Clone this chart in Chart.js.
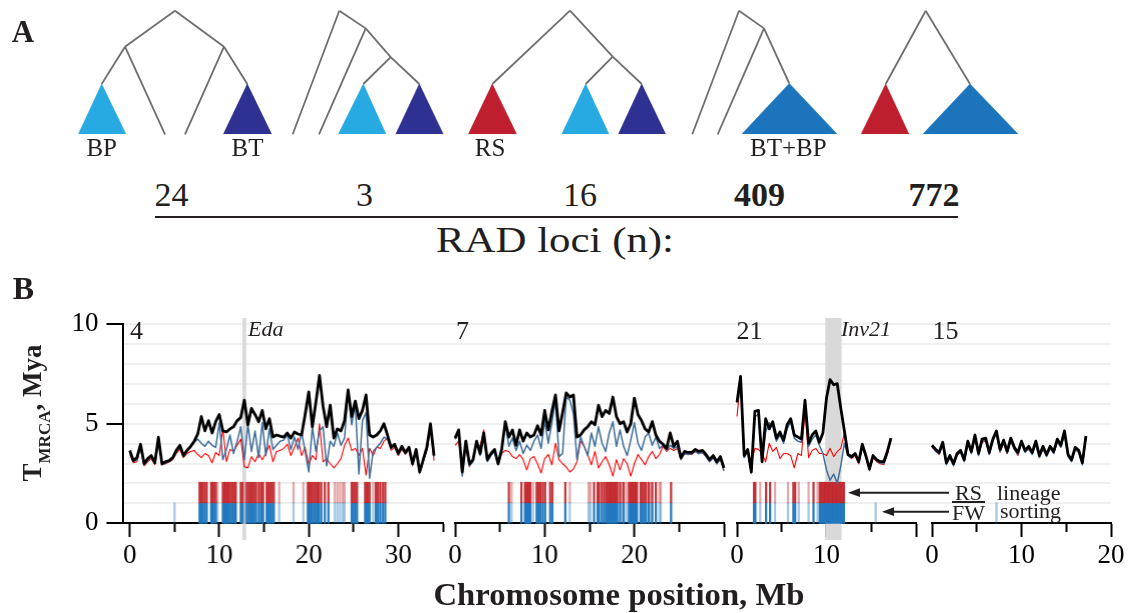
<!DOCTYPE html>
<html>
<head>
<meta charset="utf-8">
<script src="https://cdn.jsdelivr.net/npm/chart.js@4.4.1/dist/chart.umd.min.js"></script>
<style>
  html, body { margin: 0; padding: 0; background: #fff; }
  #fig { position: relative; width: 1128px; height: 613px; overflow: hidden; background: #fff;
         font-family: 'Liberation Serif', 'Times New Roman', serif; color: #231f20; }
  #fig canvas { position: absolute; }
  .t { position: absolute; white-space: nowrap; line-height: 1; }
  .c { transform: translateX(-50%); }
  .b { font-weight: bold; }
  .i { font-style: italic; }
</style>
</head>
<body>
<div id="fig"></div>
<script>
// ---------- data: chromosome scans (position in Mb, TMRCA in Mya) ----------
const chr4Pos = [0,0.4,0.8,1.2,1.6,2,2.4,2.8,3.2,3.6,4,4.4,4.8,5.2,5.6,6,6.4,6.8,7.2,7.6,8,8.4,8.8,9.2,9.6,10,10.4,10.8,11.2,11.6,12,12.4,12.8,13.2,13.6,14,14.4,14.8,15.2,15.6,16,16.4,16.8,17.2,17.6,18,18.4,18.8,19.2,19.6,20,20.4,20.8,21.2,21.6,22,22.4,22.8,23.2,23.6,24,24.4,24.8,25.2,25.6,26,26.4,26.8,27.2,27.6,28,28.4,28.8,29.2,29.6,30,30.4,30.8,31.2,31.6,32,32.4,32.8,33.2,33.6,34];
const chr4All = [3.55,3.05,3.2,3.85,2.9,3.15,3.3,2.95,4.2,2.9,3.0,3.05,3.2,3.55,3.8,3.3,3.55,3.75,4.0,4.35,5.2,4.5,5.0,4.4,4.95,5.3,4.5,4.45,4.6,4.7,5.0,5.15,6.0,4.8,5.6,5.3,4.95,5.5,4.6,5.1,4.2,4.3,4.25,4.2,4.4,4.15,4.45,4.35,4.3,5.3,6.4,4.7,5.9,7.2,5.7,4.7,5.75,4.15,4.6,4.5,5.0,6.5,5.2,5.95,5.1,5.5,6.25,4.3,4.2,4.3,4.5,4.85,4.3,3.7,3.85,3.4,3.75,3.45,3.7,2.9,3.6,2.5,3.1,3.7,4.85,3.3];
const chr4FW  = [3.5,3.0,3.1,3.75,2.85,3.05,3.25,2.9,4.1,2.85,2.95,3.0,3.15,3.5,3.7,3.25,3.5,3.7,3.95,4.1,3.9,3.75,4.0,3.8,3.7,4.9,3.1,3.6,4.3,3.4,4.0,4.7,3.1,4.8,3.5,4.5,3.2,4.9,3.3,4.6,3.6,3.8,4.0,4.05,4.3,3.6,4.2,3.6,4.45,3.5,2.5,4.7,3.5,4.5,4.7,2.8,4.0,3.75,4.4,3.8,4.15,6.4,4.8,5.8,2.4,5.0,5.4,2.2,3.5,3.7,3.9,4.2,4.1,3.65,3.8,3.35,3.7,3.4,3.65,2.85,3.55,2.45,3.05,3.65,4.75,3.25];
const chr4RS  = [3.35,2.95,3.0,3.7,2.8,3.0,3.15,2.85,4.0,2.85,2.9,3.0,3.1,3.4,3.6,3.2,3.4,3.5,3.55,3.35,3.2,3.4,3.3,2.95,3.45,3.3,4.6,3.0,3.6,3.5,3.8,4.1,2.75,2.7,3.25,3.0,3.4,3.1,3.4,3.8,3.0,3.5,3.55,3.65,3.85,3.3,3.7,4.15,3.3,3.7,2.85,3.3,3.1,4.85,3.0,3.15,2.9,2.7,2.9,3.15,3.8,4.15,3.55,3.65,3.3,3.65,2.35,3.65,3.3,3.7,3.65,4.0,4.15,3.55,3.7,3.3,3.6,3.35,3.6,2.8,3.5,2.45,3.0,3.55,4.6,3.05];

const chr7Pos = [0,0.4,0.8,1.2,1.6,2,2.4,2.8,3.2,3.6,4,4.4,4.8,5.2,5.6,6,6.4,6.8,7.2,7.6,8,8.4,8.8,9.2,9.6,10,10.4,10.8,11.2,11.6,12,12.4,12.8,13.2,13.6,14,14.4,14.8,15.2,15.6,16,16.4,16.8,17.2,17.6,18,18.4,18.8,19.2,19.6,20,20.4,20.8,21.2,21.6,22,22.4,22.8,23.2,23.6,24,24.4,24.8,25.2,25.6,26,26.4,26.8,27.2,27.6,28,28.4,28.8,29.2,29.6,30,30.4,30.6];
const chr7All = [4.15,4.55,2.5,4.0,2.9,3.1,4.0,3.4,4.4,3.1,3.4,3.6,2.9,3.6,4.95,4.2,4.55,3.8,4.55,4.0,4.4,4.2,4.3,4.75,4.3,5.5,4.55,5.45,6.25,4.5,5.4,6.35,6.15,6.25,4.2,4.3,4.55,4.7,4.95,4.8,5.75,5.2,5.5,5.35,6.15,5.2,4.85,4.95,4.45,4.85,6.1,5.3,5.0,4.6,4.45,4.95,4.3,4.0,3.85,3.65,4.4,3.75,4.0,3.2,3.5,3.45,3.45,3.6,3.5,3.55,3.35,3.1,3.3,3.0,3.25,2.7,3.5,3.95];
const chr7FW  = [4.1,4.45,2.3,3.9,2.8,3.0,3.9,3.3,4.2,3.0,3.3,3.5,2.85,3.5,4.9,3.75,4.15,3.55,4.0,3.4,3.8,3.55,4.0,4.3,3.65,5.0,3.9,4.9,6.0,3.25,3.4,6.15,6.0,5.35,3.1,4.2,3.75,3.3,4.4,3.75,4.7,3.9,3.5,4.4,4.95,3.75,4.55,3.75,3.3,4.05,4.9,3.9,3.55,4.2,4.4,3.8,4.2,3.65,3.8,3.55,3.8,3.65,3.75,3.1,3.4,3.35,3.4,3.5,3.4,3.45,3.25,3.0,3.2,2.9,3.15,2.55,3.4,3.9];
const chr7RS  = [3.8,4.0,2.75,3.75,2.75,3.15,3.9,3.75,4.55,3.2,3.35,3.5,2.85,3.4,3.55,3.5,3.25,3.15,3.35,3.1,2.6,3.15,3.25,2.9,2.45,3.15,3.35,2.85,3.9,3.1,2.9,2.75,2.5,2.65,3.0,4.0,3.75,3.35,2.85,3.5,2.7,3.0,3.25,2.85,2.3,3.1,2.6,3.15,2.9,2.3,2.9,3.35,3.1,2.85,3.25,3.5,3.15,3.35,3.75,3.5,3.65,3.55,3.65,3.1,3.4,3.35,3.35,3.5,3.4,3.45,3.25,3.0,3.2,2.9,3.1,2.6,3.3,3.8];

const chr21Pos = [0,0.4,0.8,1.2,1.6,2,2.4,2.8,3.2,3.6,4,4.4,4.8,5.2,5.6,6,6.4,6.8,7.2,7.6,8,8.4,8.8,9.2,9.6,10,10.4,10.8,11.2,11.6,12,12.4,12.8,13.2,13.6,14,14.4,14.8,15.2,15.6,16,16.4,16.8,17.2];
const chr21All = [5.9,7.15,3.3,3.6,2.5,5.45,5.5,3.0,5.1,4.6,4.95,4.15,4.45,4.05,4.8,5.1,4.3,4.2,4.1,6.0,3.9,4.3,4.5,3.95,4.4,6.1,7.0,6.75,6.8,5.6,4.5,3.35,3.25,3.4,3.0,3.85,3.3,2.65,3.3,3.1,3.0,3.0,3.5,4.15];
const chr21FW  = [5.85,7.1,3.2,3.5,2.45,5.2,5.3,2.95,4.45,4.9,4.7,4.0,4.3,3.9,4.6,4.95,4.15,4.0,3.95,5.8,3.75,4.1,4.3,3.8,3.4,2.6,2.1,2.4,1.95,2.8,3.9,3.3,3.2,3.35,2.95,3.75,3.25,2.6,3.25,3.05,2.95,2.9,3.45,4.1];
const chr21RS  = [5.2,7.0,3.25,3.6,2.9,3.65,3.6,3.4,3.0,3.9,3.5,3.7,3.15,3.4,3.4,3.3,2.7,3.4,3.3,5.45,3.2,3.55,3.65,3.4,3.4,3.3,3.65,3.25,3.5,3.65,4.4,3.3,3.15,3.3,2.9,3.7,3.2,2.55,3.2,3.0,2.9,2.85,3.35,4.05];

const chr15Pos = [0,0.4,0.8,1.2,1.6,2,2.4,2.8,3.2,3.6,4,4.4,4.8,5.2,5.6,6,6.4,6.8,7.2,7.6,8,8.4,8.8,9.2,9.6,10,10.4,10.8,11.2,11.6,12,12.4,12.8,13.2,13.6,14,14.4,14.8,15.2,15.6,16,16.4,16.8,17.2];
const chr15All = [3.8,3.6,3.45,3.95,2.95,3.3,2.9,3.4,3.55,3.1,4.0,3.5,4.3,3.4,4.1,4.15,3.45,4.1,4.5,3.6,4.05,3.5,4.15,3.7,3.45,4.0,3.55,3.75,3.45,4.0,3.3,3.75,3.35,3.75,3.5,4.1,3.8,4.5,3.35,3.1,3.7,3.55,2.95,4.25];
const chr15FW  = [3.75,3.5,3.4,3.85,2.85,3.2,2.8,3.35,3.45,3.0,3.9,3.4,4.2,3.3,4.0,4.05,3.35,4.0,4.4,3.5,3.95,3.4,4.05,3.6,3.35,3.9,3.45,3.65,3.35,3.9,3.2,3.65,3.25,3.65,3.4,4.0,3.7,4.4,3.25,3.0,3.6,3.45,2.85,4.2];
const chr15RS  = [3.7,3.55,3.35,3.9,2.9,3.2,2.85,3.3,3.5,3.05,3.85,3.45,4.15,3.35,3.95,4.0,3.35,4.05,4.4,3.45,3.9,3.4,4.0,3.6,3.3,3.95,3.5,3.6,3.4,3.85,3.25,3.6,3.3,3.7,3.4,3.95,3.75,4.35,3.3,3.05,3.6,3.45,2.9,4.1];

// loci showing RS / FW lineage sorting (Mb); faint = weaker support
const chr4Sorted = [7.8,7.95,8.1,8.35,8.6,9.1,9.25,9.4,9.6,10.4,10.55,10.7,10.85,11.0,11.2,11.4,11.6,11.8,12.4,12.6,13.1,13.3,13.5,13.7,13.9,14.1,14.45,14.7,14.9,15.3,15.5,15.7,15.9,16.1,19.9,20.05,20.2,20.4,20.6,20.8,21.0,21.15,21.4,21.8,22.2,24.8,25.0,25.2,25.4,26.3,26.45,26.6,26.8,27.5,27.7,28.0,28.3,28.55];
const chr4Faint  = [8.5,9.8,11.9,12.9,14.3,16.7,18.3,19.4,22.9,23.2,23.5,23.8,24.0,27.2,27.9];
const chr4FwOnly = [5.0];
const chr7Sorted = [6.0,7.4,7.8,7.95,8.1,8.25,8.4,9.1,9.3,9.5,9.8,10.05,10.6,10.85,12.3,15.5,15.9,16.05,16.4,16.65,16.9,17.05,17.2,17.35,17.5,17.65,17.8,17.95,18.1,18.4,18.8,19.4,19.55,19.7,19.85,20.0,20.15,20.3,20.7,20.9,21.1,21.3,21.6,22.0,22.4,24.1];
const chr7Faint  = [6.3,8.7,9.65,12.8,14.9,15.1,16.25,18.6,19.1,21.8,22.8,22.95];
const chr7FwOnly = [];
const chr21Sorted = [1.9,2.05,3.25,3.7,6.3,6.5,8.55,9.25,9.4,9.55,9.7,9.85,10.0,10.15,10.3,10.45,10.6,10.75,10.9,11.05,11.2,11.35,11.5,11.65,11.8,11.95];
const chr21Faint  = [2.6,4.25,5.7,6.9,8.0,9.0];
const chr21FwOnly = [15.5];
const chr15Sorted = [];
const chr15Faint  = [];
const chr15FwOnly = [7.2];

// axis ticks (Mb) and which of them carry a label
const chr4Ticks = [0,5,10,15,20,25,30,35],  chr4Labels = [0,10,20,30];
const chr7Ticks = [0,5,10,15,20,25,30],     chr7Labels = [0,10,20];
const chr21Ticks = [0,5,10,15,20],          chr21Labels = [0,10];
const chr15Ticks = [0,5,10,15,20],          chr15Labels = [0,10,20];
const yTicks = [0,1,2,3,4,5,6,7,8,9,10],    yLabels = [0,5,10];

// marked regions
const edaPos = 12.8;
const inv21Start = 9.9, inv21End = 11.65;

// ---------- panel A: cladograms (x across the row, y = height, 0 at tips, 1 at root) ----------
const treeEdges = [
  // BP | BT split with two unplaced lineages
  [[175,1],[125,0.709]], [[175,1],[224,0.709]],
  [[125,0.709],[101.7,0.407]], [[125,0.709],[165,0]],
  [[224,0.709],[185,0]], [[224,0.709],[247.3,0.407]],
  // ((BP,BT),x),x
  [[339.3,1],[292.7,0]], [[339.3,1],[365.7,0.857]],
  [[365.7,0.857],[319,0]], [[365.7,0.857],[390.7,0.625]],
  [[390.7,0.625],[363.3,0.407]], [[390.7,0.625],[419.3,0.407]],
  // RS,(BP,BT)
  [[570,1],[492.3,0.407]], [[570,1],[612.7,0.628]],
  [[612.7,0.628],[585.7,0.407]], [[612.7,0.628],[641.7,0.407]],
  // ((BT+BP),x),x
  [[739,1],[692.3,0]], [[739,1],[764,0.857]],
  [[764,0.857],[717.7,0]], [[764,0.857],[789.3,0.411]],
  // RS,(BT+BP)
  [[925.7,1],[885.7,0.407]], [[925.7,1],[970,0.407]]
];
const clades = [
  { left: 78.3,  apex: 101.7, right: 126,    top: 0.407, color: '#27aae1' },
  { left: 223.3, apex: 247.3, right: 271.7,  top: 0.407, color: '#2e3192' },
  { left: 338.3, apex: 363.3, right: 386,    top: 0.407, color: '#27aae1' },
  { left: 395.7, apex: 419.3, right: 443.3,  top: 0.407, color: '#2e3192' },
  { left: 468.3, apex: 492.3, right: 516.7,  top: 0.407, color: '#be1e2d' },
  { left: 561.7, apex: 585.7, right: 609,    top: 0.407, color: '#27aae1' },
  { left: 618.3, apex: 641.7, right: 665.7,  top: 0.407, color: '#2e3192' },
  { left: 741.7, apex: 789.3, right: 837.3,  top: 0.411, color: '#1c75bc' },
  { left: 861,   apex: 885.7, right: 909,    top: 0.407, color: '#be1e2d' },
  { left: 922.7, apex: 970,   right: 1018.3, top: 0.407, color: '#1c75bc' }
];
const topologyCounts = ['24', '3', '16', '409', '772'];

// ---------- helpers ----------
const SERIF = "'Liberation Serif', 'Times New Roman', serif";
Chart.defaults.font.family = SERIF;
Chart.defaults.color = '#000';
Chart.defaults.animation = false;

const fig = document.getElementById('fig');
function makeCanvas(left, top, w, h) {
  const c = document.createElement('canvas');
  c.width = w; c.height = h;
  c.style.left = left + 'px'; c.style.top = top + 'px';
  c.style.width = w + 'px'; c.style.height = h + 'px';
  fig.appendChild(c);
  return c;
}
// text placed by its baseline
function label(html, x, base, size, cls, stretch) {
  const d = document.createElement('div');
  d.className = 't ' + (cls || '');
  d.innerHTML = html;
  d.style.fontSize = size + 'px';
  d.style.left = x + 'px';
  d.style.top = (base - 0.8375 * size) + 'px';
  if (stretch) d.style.transform = 'translateX(-50%) scaleX(' + stretch + ')';
  fig.appendChild(d);
  return d;
}
const quiet = { legend: { display: false }, tooltip: { enabled: false } };

// ---------- panel A ----------
const treeDatasets = [];
treeEdges.forEach(e => treeDatasets.push({
  data: e.map(p => ({ x: p[0], y: p[1] })),
  borderColor: '#6d6e71', borderWidth: 1.8, pointRadius: 0, fill: false, clip: false
}));
clades.forEach(t => treeDatasets.push({
  data: [{ x: t.left, y: 0 }, { x: t.apex, y: t.top }, { x: t.right, y: 0 }],
  borderColor: t.color, backgroundColor: t.color, borderWidth: 0.5,
  pointRadius: 0, fill: 'origin', clip: false
}));
new Chart(makeCanvas(0, 0, 1128, 150), {
  type: 'line',
  data: { datasets: treeDatasets },
  options: {
    responsive: false, devicePixelRatio: 1, events: [], plugins: quiet,
    layout: { padding: { top: 10.7, bottom: 15.7, left: 0, right: 0 } },
    scales: {
      x: { type: 'linear', min: 0, max: 1128, display: false },
      y: { type: 'linear', min: 0, max: 1, display: false }
    }
  }
});

label('A', 11.7, 41.7, 31, 'b');
label('BP', 101.7, 156, 25, 'c');
label('BT', 247.5, 156, 25, 'c');
label('RS', 490, 156, 25, 'c');
label('BT+BP', 788.3, 156, 25, 'c');
const countX = [171.5, 364.5, 580, 759.5, 934];
topologyCounts.forEach((n, i) => label(n, countX[i], 206.7, 34, 'c' + (i >= 3 ? ' b' : '')));
const rule = document.createElement('div');
rule.style.cssText = 'position:absolute;left:155px;top:215.5px;width:803px;height:2.3px;background:#231f20;';
fig.appendChild(rule);
label('RAD loci (n):', 555, 252.5, 36, '', 1.19);

// ---------- panel B ----------
const AREA_TOP = 318, AREA_ZERO = 523.3, UNIT = 20.53;
const Y_LOW = -0.81;                 // band / marker lines run a little below the axis
const MB_PX = 8.95;

// y axis + horizontal guides spanning all chromosomes
new Chart(makeCanvas(0, 300, 1128, 260), {
  type: 'line',
  data: { datasets: [] },
  options: {
    responsive: false, devicePixelRatio: 1, events: [], plugins: quiet,
    layout: { padding: { top: AREA_TOP - 300, bottom: 560 - AREA_ZERO, left: 0, right: 17 } },
    scales: {
      x: { type: 'linear', min: 0, max: 1, display: false },
      y: {
        min: 0, max: 10,
        afterFit: s => { s.width = 122.5; },
        afterBuildTicks: s => { s.ticks = yTicks.map(v => ({ value: v })); },
        border: { display: true, color: '#000', width: 2 },
        grid: {
          color: c => c.tick.value === 0 ? 'rgba(0,0,0,0)' : '#efefef',
          lineWidth: 2, tickLength: 16, tickWidth: 2,
          tickColor: c => yLabels.includes(c.tick.value) ? '#000' : 'rgba(0,0,0,0)'
        },
        ticks: {
          padding: 8, autoSkip: false, font: { size: 27 }, color: '#000',
          callback: v => yLabels.includes(v) ? String(v) : ''
        }
      }
    }
  }
});

function rug(xs, lo, hi, color) {
  return {
    type: 'bar', data: xs.map(x => ({ x, y: [lo, hi] })),
    backgroundColor: color, barThickness: 1.6, grouped: false, borderWidth: 0, clip: false
  };
}

function chromChart(c) {
  const left = c.origin + c.min * MB_PX;
  const width = (c.max - c.min) * MB_PX;
  const pad = 30;
  const pts = ys => c.pos.map((x, i) => ({ x, y: ys[i] }));
  const line = (ys, color, w) => ({
    data: pts(ys), borderColor: color, borderWidth: w, pointRadius: 0,
    tension: 0, fill: false, clip: false, borderJoinStyle: 'round'
  });
  const datasets = [
    line(c.all, '#000', 2.8),
    line(c.fw, '#3f6e9a', 1.5),
    line(c.rs, '#ff0000', 1.1),
    rug(c.sorted, 1, 2, 'rgba(193,39,45,0.92)'),
    rug(c.faint, 1, 2, 'rgba(193,39,45,0.4)'),
    rug(c.sorted, 0, 1, 'rgba(31,118,190,0.95)'),
    rug(c.faint.concat(c.fwOnly), 0, 1, 'rgba(31,118,190,0.4)')
  ];
  (c.marks || []).forEach(m => datasets.push({
    type: 'bar', data: [{ x: (m.from + m.to) / 2, y: [Y_LOW, 10] }],
    backgroundColor: '#d9d9d9', grouped: false, borderWidth: 0,
    barThickness: Math.max(3, (m.to - m.from) * MB_PX)
  }));
  const H = 300;
  new Chart(makeCanvas(left - pad, 300, width + 2 * pad, H), {
    type: 'line',
    data: { datasets },
    options: {
      responsive: false, devicePixelRatio: 1, events: [], plugins: quiet,
      layout: { padding: { top: AREA_TOP - 300, bottom: 300 + H - (AREA_ZERO - Y_LOW * UNIT), left: pad, right: pad } },
      scales: {
        x: {
          type: 'linear', min: c.min, max: c.max, offset: false, z: 1,
          position: { y: 0 },
          afterBuildTicks: s => { s.ticks = c.ticks.map(v => ({ value: v })); },
          border: { display: true, color: '#000', width: 2 },
          grid: {
            drawOnChartArea: false, offset: false, tickLength: 13, tickWidth: 2, tickColor: '#000',
            tickBorderDash: ctx => (ctx.tick && ctx.tick.value % 10 !== 0) ? [8, 40] : []
          },
          ticks: {
            padding: 3, autoSkip: false, maxRotation: 0, font: { size: 27 }, color: '#000',
            callback: v => c.labels.includes(v) ? String(v) : ''
          }
        },
        y: { min: Y_LOW, max: 10, display: false }
      }
    }
  });
}

chromChart({ origin: 129.3, min: -0.75, max: 35, pos: chr4Pos, all: chr4All, fw: chr4FW, rs: chr4RS,
  sorted: chr4Sorted, faint: chr4Faint, fwOnly: chr4FwOnly, ticks: chr4Ticks, labels: chr4Labels,
  marks: [{ from: edaPos, to: edaPos }] });
chromChart({ origin: 455, min: 0, max: 30, pos: chr7Pos, all: chr7All, fw: chr7FW, rs: chr7RS,
  sorted: chr7Sorted, faint: chr7Faint, fwOnly: chr7FwOnly, ticks: chr7Ticks, labels: chr7Labels });
chromChart({ origin: 736.7, min: 0, max: 20, pos: chr21Pos, all: chr21All, fw: chr21FW, rs: chr21RS,
  sorted: chr21Sorted, faint: chr21Faint, fwOnly: chr21FwOnly, ticks: chr21Ticks, labels: chr21Labels,
  marks: [{ from: inv21Start, to: inv21End }] });
chromChart({ origin: 932, min: 0, max: 20, pos: chr15Pos, all: chr15All, fw: chr15FW, rs: chr15RS,
  sorted: chr15Sorted, faint: chr15Faint, fwOnly: chr15FwOnly, ticks: chr15Ticks, labels: chr15Labels });

label('B', 12.7, 298.3, 32, 'b');
label('4', 130, 340, 26);
label('Eda', 248, 336, 22, 'i');
label('7', 456, 340, 26);
label('21', 736.5, 339.5, 26);
label('Inv21', 841, 336, 22, 'i');
label('15', 932.5, 339.5, 26);

// axis titles
const yt = document.createElement('div');
yt.className = 't b';
yt.style.cssText += 'font-size:27px;left:36px;top:413px;transform:translate(-50%,-50%) rotate(-90deg);';
yt.innerHTML = 'T<span style="font-size:17px;vertical-align:-9px">MRCA</span>, Mya';
fig.appendChild(yt);
label('Chromosome position, Mb', 619, 605, 31, 'b', 1.055);

// lineage-sorting key with arrows
label('RS', 955, 500, 22);
label('FW', 952, 520, 22);
label('lineage', 997, 500, 22);
label('sorting', 1000, 518, 22);
const frac = document.createElement('div');
frac.style.cssText = 'position:absolute;left:952px;top:501px;width:33px;height:1.5px;background:#231f20;';
fig.appendChild(frac);
const svgNS = 'http://www.w3.org/2000/svg';
const svg = document.createElementNS(svgNS, 'svg');
svg.setAttribute('width', 1128); svg.setAttribute('height', 613);
svg.style.cssText = 'position:absolute;left:0;top:0;';
svg.innerHTML =
  '<line x1="949" y1="492.7" x2="856" y2="492.7" stroke="#231f20" stroke-width="2"/>' +
  '<polygon points="848,492.7 860,488.3 860,497.1" fill="#231f20"/>' +
  '<line x1="949" y1="511.7" x2="890" y2="511.7" stroke="#231f20" stroke-width="2"/>' +
  '<polygon points="882,511.7 894,507.3 894,516.1" fill="#231f20"/>';
fig.appendChild(svg);
</script>
</body>
</html>
